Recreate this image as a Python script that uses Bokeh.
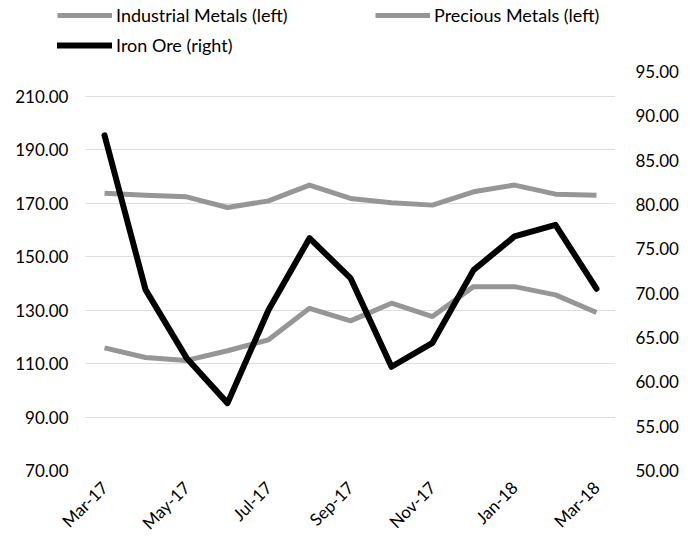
import math
from bokeh.plotting import figure
from bokeh.models import (Range1d, LinearAxis, FixedTicker, NumeralTickFormatter,
                          Legend, LegendItem, ColumnDataSource)
from bokeh.embed import file_html
from bokeh.resources import INLINE

months = ["Mar-17", "Apr-17", "May-17", "Jun-17", "Jul-17", "Aug-17", "Sep-17",
          "Oct-17", "Nov-17", "Dec-17", "Jan-18", "Feb-18", "Mar-18"]
industrial_metals = [115.9, 112.3, 111.2, 114.8, 118.9, 130.7, 126.0,
                     132.6, 127.6, 138.8, 138.8, 135.7, 129.1]
precious_metals = [173.7, 173.0, 172.4, 168.4, 170.9, 176.8, 171.8,
                   170.2, 169.3, 174.3, 176.8, 173.4, 173.0]
iron_ore = [87.8, 70.4, 62.7, 57.6, 68.1, 76.2, 71.7,
            61.7, 64.4, 72.6, 76.4, 77.7, 70.5]
left_ticks = [70, 90, 110, 130, 150, 170, 190, 210]
right_ticks = [50, 55, 60, 65, 70, 75, 80, 85, 90, 95]
series_names = ["Industrial Metals (left)", "Precious Metals (left)", "Iron Ore (right)"]

x = list(range(len(months)))
src = ColumnDataSource(dict(x=x, ind=industrial_metals, pre=precious_metals, iron=iron_ore))

FONT = "Lato"
FS = "17px"
GRAY = "#969696"
IND_STYLE = dict(line_color=GRAY, line_width=5, line_join="round")
PRE_STYLE = dict(line_color=GRAY, line_width=5, line_join="round")
IRON_STYLE = dict(line_color="black", line_width=6, line_join="round", line_cap="round")

# ---------------- legend strip (top, its own root) ----------------
lg = figure(width=697, height=60, output_backend="svg", toolbar_location=None,
            x_range=Range1d(0, 1), y_range=Range1d(0, 1),
            x_axis_type=None, y_axis_type=None,
            min_border_left=0, min_border_right=0, min_border_top=0, min_border_bottom=0)
lg.outline_line_color = None
lg.grid.visible = False
lg.background_fill_color = "white"
lg.border_fill_color = "white"
# one invisible (NaN) point per series, only so the legend has glyph renderers
ghost = ColumnDataSource(dict(x=[float("nan")], y=[float("nan")]))
l_ind = lg.line("x", "y", source=ghost, **IND_STYLE)
l_pre = lg.line("x", "y", source=ghost, **PRE_STYLE)
l_iron = lg.line("x", "y", source=ghost, **IRON_STYLE)
legend = Legend(items=[LegendItem(label=series_names[0], renderers=[l_ind]),
                       LegendItem(label=series_names[1], renderers=[l_pre]),
                       LegendItem(label=series_names[2], renderers=[l_iron])],
                location=(57, 4), orientation="horizontal", ncols=2,
                padding=0, margin=0, spacing=8, glyph_width=55, glyph_height=20,
                label_standoff=4, label_width=251, label_height=20,
                label_text_font=FONT, label_text_font_size="18px",
                label_text_color="black", border_line_alpha=0,
                background_fill_alpha=0)
lg.add_layout(legend, "center")

# ---------------- main chart ----------------
p = figure(width=697, height=483, output_backend="svg", toolbar_location=None,
           x_range=Range1d(-0.464, 12.464), y_range=Range1d(70, 219.3),
           min_border_left=85, min_border_right=82, min_border_top=11, min_border_bottom=72)
p.extra_y_ranges = {"right": Range1d(50, 95)}
p.outline_line_color = None
p.background_fill_color = "white"
p.border_fill_color = "white"

p.xgrid.visible = False
p.ygrid.ticker = FixedTicker(ticks=left_ticks)
p.ygrid.grid_line_color = "#bdbdbd"
p.ygrid.grid_line_dash = "1 1"
p.ygrid.grid_line_width = 1


def style_axis(ax, standoff):
    ax.axis_line_color = None
    ax.major_tick_line_color = None
    ax.minor_tick_line_color = None
    ax.major_tick_out = 0
    ax.major_tick_in = 0
    ax.minor_tick_out = 0
    ax.minor_tick_in = 0
    ax.major_label_standoff = standoff
    ax.major_label_text_font = FONT
    ax.major_label_text_font_size = FS
    ax.major_label_text_color = "black"


ly = p.yaxis[0]
ly.ticker = FixedTicker(ticks=left_ticks)
ly.formatter = NumeralTickFormatter(format="0.00")
style_axis(ly, 17)

ry = LinearAxis(y_range_name="right", ticker=FixedTicker(ticks=right_ticks),
                formatter=NumeralTickFormatter(format="0.00"))
style_axis(ry, 20)
p.add_layout(ry, "right")

xa = p.xaxis[0]
xa.ticker = FixedTicker(ticks=x[::2])
xa.major_label_overrides = {i: months[i] for i in x[::2]}
xa.major_label_orientation = math.pi / 4
style_axis(xa, 14)

p.line("x", "ind", source=src, **IND_STYLE)
p.line("x", "pre", source=src, **PRE_STYLE)
p.line("x", "iron", source=src, y_range_name="right", **IRON_STYLE)

open("out.html", "w").write(file_html([lg, p], INLINE))
